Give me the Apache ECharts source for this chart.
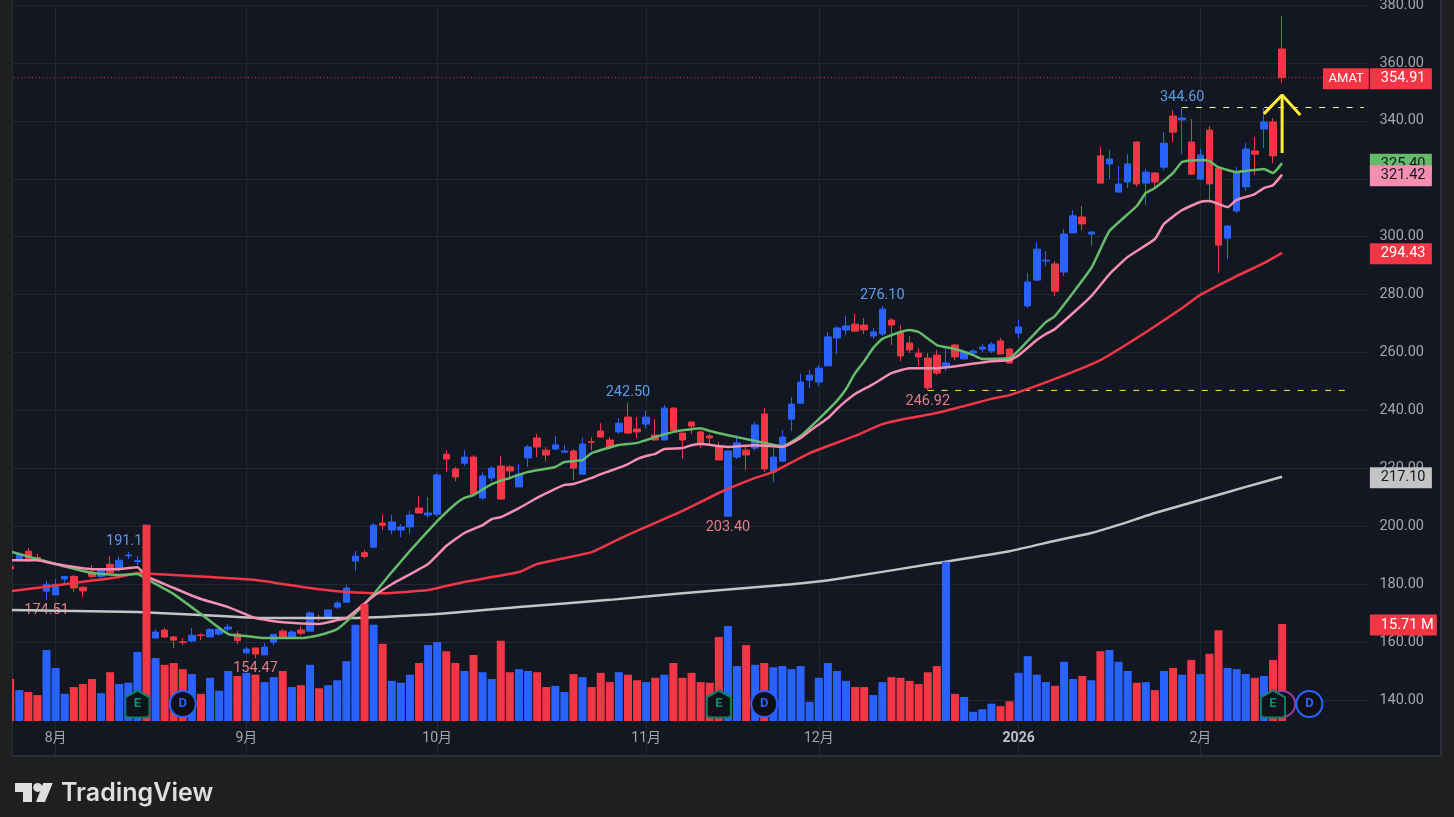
<!DOCTYPE html>
<html>
<head>
<meta charset="utf-8">
<title>AMAT</title>
<style>
html,body{margin:0;padding:0;background:#1f1f1f;}
#main{width:1454px;height:817px;}
</style>
<script src="https://cdn.jsdelivr.net/npm/echarts@6/dist/echarts.min.js"></script>
</head>
<body>
<div id="main"></div>
<script>
// candle values (blue = up, red = down)
var opens = [
186.2,188.6,191.4,189.2,177.6,176.3,181.8,182.7,179.0,184.2,
182.7,186.9,185.2,189.8,187.8,182.0,161.4,164.2,161.8,160.1,
160.4,162.5,161.8,162.8,164.5,162.8,156.3,158.0,155.6,160.0,
163.8,161.8,164.2,163.8,168.5,168.7,172.1,173.8,188.0,190.9,
192.8,201.1,198.7,198.7,199.8,206.3,203.9,204.2,224.9,219.8,
221.8,223.9,209.8,216.7,220.8,220.5,213.6,223.6,230.5,226.3,
226.7,225.6,226.0,218.0,229.2,232.9,229.8,232.6,237.7,233.6,
235.3,231.5,229.8,240.8,232.2,236.0,232.6,231.2,227.4,203.5,
223.9,226.3,227.0,238.8,218.7,222.5,237.0,242.5,250.5,249.8,
255.4,265.0,267.8,269.8,269.5,265.7,266.4,271.2,267.1,263.3,
259.8,258.1,259.1,255.4,262.6,257.8,259.8,261.2,260.5,264.0,
261.2,266.7,276.1,285.0,291.6,290.6,287.8,301.3,306.8,300.9,
327.9,325.1,315.4,318.9,332.7,318.5,322.0,324.0,341.7,340.3,
332.7,319.9,336.8,323.7,299.5,308.9,317.2,329.6,337.2,339.6,
364.8];
var closes = [
185.3,190.3,188.0,188.9,180.0,180.0,182.7,178.7,177.7,182.7,
184.9,184.0,188.3,190.1,188.2,163.0,163.5,161.8,160.7,159.9,
162.4,162.3,164.4,164.5,165.2,160.5,157.6,155.9,158.3,162.7,
161.8,163.5,163.1,170.1,168.3,171.1,173.5,178.7,189.7,189.6,
200.4,200.4,201.5,199.8,203.9,204.6,204.6,217.7,223.2,217.0,
223.9,211.1,217.4,220.1,209.4,219.1,218.0,227.4,227.4,224.6,
228.1,226.0,220.1,228.4,229.0,230.8,227.4,235.6,232.2,232.6,
237.7,229.8,240.8,233.2,229.8,234.6,228.4,230.5,222.9,226.0,
228.8,224.6,235.0,219.8,223.9,230.8,242.2,249.8,252.2,254.6,
265.4,268.5,269.2,267.4,267.8,267.1,275.0,269.5,258.8,260.9,
258.5,247.8,252.9,256.4,258.5,260.2,260.5,261.9,262.9,259.5,
256.4,268.8,284.35,295.7,291.9,281.2,300.9,307.2,304.4,301.6,
318.5,326.8,318.2,325.1,318.2,322.3,318.9,332.3,336.1,341.0,
321.6,328.2,318.2,297.1,303.7,322.3,330.3,328.5,339.6,327.9,
354.91];
var highs = [
186.6,190.5,192.5,190.6,181.35,181.7,182.7,183.2,179.1,186.6,
185.5,189.7,189.7,191.13,189.7,186.0,164.4,165.0,162.1,161.4,
164.9,163.1,164.9,164.9,166.2,163.8,158.3,158.0,159.7,162.7,
164.5,164.2,165.6,170.7,169.6,171.1,174.2,179.8,191.5,191.8,
201.1,204.2,203.9,200.8,205.3,210.5,210.1,218.4,226.3,220.5,
226.3,224.6,218.7,220.8,224.3,221.2,221.5,228.1,231.9,227.4,
231.2,228.1,226.7,230.5,230.8,235.6,230.8,237.4,242.5,237.7,
239.8,237.0,241.9,241.2,232.2,236.3,233.2,231.9,229.1,226.0,
231.5,227.7,236.0,240.8,228.0,233.2,244.6,252.6,254.0,255.7,
267.1,269.2,272.6,273.3,271.9,268.5,276.1,271.9,269.5,265.7,
261.6,259.8,260.9,261.2,263.0,260.5,261.2,262.9,263.6,265.0,
261.6,271.2,287.5,298.2,295.0,291.6,302.6,309.2,310.6,301.8,
330.9,329.9,324.4,328.5,332.9,323.4,322.3,336.1,343.7,344.6,
340.6,330.3,338.2,323.7,304.0,324.0,332.3,334.4,344.4,341.0,
376.2];
var lows = [
185.0,188.3,188.0,187.8,174.51,176.3,180.5,177.4,175.7,181.9,
182.0,183.9,184.3,188.7,186.6,162.0,161.4,161.4,157.9,159.0,
160.0,160.7,161.8,162.2,163.8,159.3,155.9,154.47,155.5,159.0,
161.4,161.8,162.4,163.8,167.3,168.7,171.4,173.8,184.6,188.8,
192.6,198.7,197.3,196.3,197.3,204.6,202.9,203.5,218.7,215.6,
220.8,210.8,209.0,215.6,209.4,217.0,213.6,220.5,223.9,222.5,
226.3,225.3,216.0,218.0,226.3,230.8,226.7,231.9,231.9,230.5,
233.9,229.8,229.8,232.9,223.2,231.9,227.0,228.4,222.9,203.4,
223.2,219.4,226.3,218.8,215.3,222.5,232.9,242.5,247.7,248.4,
255.4,259.5,266.0,267.1,266.4,264.7,265.7,262.6,257.0,259.8,
255.3,246.92,252.2,253.6,257.4,257.8,259.1,260.2,259.8,259.5,
256.0,265.0,275.4,284.7,289.9,279.5,286.4,301.3,302.3,296.8,
318.5,319.9,315.4,316.8,317.2,310.9,316.8,323.0,332.7,328.5,
321.3,319.6,311.6,287.5,292.3,308.2,315.8,321.3,330.6,325.4,
353.1];
// volume in millions
var volumes = [
6.8,5.0,4.7,4.2,11.5,8.6,4.4,5.5,6.0,6.8,
4.5,7.9,6.0,6.2,11.2,31.8,10.2,9.1,9.4,8.4,
7.6,4.4,7.0,4.9,8.1,7.3,7.8,7.5,6.3,7.1,
8.1,5.5,5.8,9.1,5.3,5.8,6.6,9.7,15.6,19.0,
15.6,12.5,6.5,6.2,7.5,9.4,12.3,12.8,11.3,9.4,
8.1,10.7,7.9,6.8,13.0,7.9,8.4,8.1,7.9,5.5,
5.7,4.7,7.6,7.1,5.5,7.8,6.3,7.9,7.5,6.6,
6.3,7.0,7.5,9.4,7.0,7.8,6.3,6.2,13.6,15.4,
8.9,12.3,9.1,9.4,8.7,8.9,8.4,8.9,3.1,7.0,
9.4,8.1,6.5,5.5,5.5,4.2,6.3,7.1,7.0,6.5,
6.0,7.9,8.9,25.8,4.4,3.9,1.5,1.9,2.8,2.4,
3.2,7.8,10.5,7.5,6.3,5.7,9.6,6.8,7.3,6.6,
11.3,11.5,9.6,8.1,6.2,6.3,5.0,8.1,8.6,7.5,
9.9,7.6,10.9,14.7,8.6,8.4,7.6,7.0,7.3,9.9,
15.71];

// moving averages, sampled as [bar, value] along each curve
var maGreen = [[0,191.3],[5,187],[9,183.9],[12,183.2],[14,183.5],[15,181.8],[18,176.6],[21,169.7],[24,162.8],[26,162.1],[28,161.4],[32,161.4],[34,162.4],[36,164.5],[38,170],[40,176.6],[42,184.2],[44,191.5],[46,198.4],[47,201.8],[49,207.7],[50,209.8],[51,210.8],[53,214.6],[55,216.7],[57,218.8],[60,220.5],[61,222.2],[63,222.9],[64,225.3],[67,228.1],[69,228.8],[71,230.8],[73,232.6],[74,233.2],[76,233.9],[77,232.9],[80,230.8],[83,228.8],[85,227.7],[87,231.2],[89,237],[91,243.3],[92,247.4],[93,252.9],[94,257],[95,261.6],[96,264.7],[98,267.1],[99,267.8],[100,267.1],[102,262.6],[104,261.2],[106,259.1],[107,257.8],[110,258.1],[112,264],[114,270.5],[115,272.6],[119,289.2],[120,295.7],[121,302],[124,310.6],[125,315.1],[126,316.8],[128,322],[129,325.8],[131,326.5],[132,326.1],[133,324],[135,322.3],[136,322.7],[138,323.4],[139,322],[140,325.4]];
var maPink = [[0,188.3],[3,188.3],[5,187],[9,185.2],[12,185.2],[14,185.9],[15,182.8],[18,178.7],[21,174.9],[24,172.1],[27,168.3],[30,166.9],[34,166.3],[36,167.6],[37,168.3],[40,175.9],[42,180],[46,187],[48,193.2],[50,197.7],[52,200.4],[53,202.5],[54,203.2],[56,206.3],[58,209.8],[60,212.9],[61,214.3],[62,214.6],[64,216.7],[65,218],[66,219.1],[68,221.5],[69,223.2],[70,224.3],[71,225],[72,226.7],[74,227],[75,228],[76,228.4],[79,227.4],[82,228],[85,227.4],[87,230.5],[88,232.9],[90,237.4],[91,240.5],[92,243.3],[93,245.7],[95,249.1],[97,252.9],[99,254.6],[102,254.6],[105,255.7],[108,257],[110,257.4],[111,259.1],[113,264.3],[114,266.4],[115,268.1],[119,279.5],[121,287.1],[123,293],[126,299.2],[127,304.4],[129,309.2],[131,312],[132,312.3],[134,310.2],[135,312.7],[137,314.7],[138,316.8],[139,317.8],[140,321.42]];
var maRed = [[0,177.6],[6,180],[12,182.5],[14,183.9],[16,183.5],[22,182.5],[27,181.5],[33,178.7],[36,177.6],[41,176.9],[46,178],[50,180.8],[56,184.2],[58,187],[64,191.1],[67,195.6],[69,198.4],[74,205.3],[78,211.5],[82,216.7],[84,218.8],[88,225.3],[93,231.2],[96,235.3],[99,237.4],[102,239.1],[105,241.5],[108,244],[110,245.3],[115,250.9],[120,257.4],[124,265],[129,275.4],[131,279.9],[135,286.4],[138,290.9],[140,294.43]];
var maGrey = [[0,171.1],[14,170.4],[21,169.4],[28,168.3],[37,168.3],[47,169.7],[56,172.1],[66,174.6],[74,176.9],[86,180],[91,181.8],[102,187.3],[110,191.4],[115,195],[119,197.7],[122,200.5],[126,204.6],[131,209.1],[136,213.6],[140,217.1]];

// yellow arrow drawn on the chart
var arrowShaft = [[140,328.9],[140,348.9]];
var arrowHead = [[138,342.4],[140,348.9],[142,342]];

// level lines
var lastPriceLine = [[0,354.91],[149,354.91]];
var highLevelLine = [[129,344.6],[149,344.6]];
var lowLevelLine = [[101,246.92],[147,246.92]];

// x axis
var tickBars = [5,26,47,70,89,111,131];
var tickLabels = ['8月','9月','10月','11月','12月','2026','2月'];
var barCount = 150;

// high / low notes: [bar, value, text, side]
var notes = [
    [13,191.13,'191.13','top'],
    [4,174.51,'174.51','bottom'],
    [27,154.47,'154.47','bottom'],
    [68,242.5,'242.50','top'],
    [79,203.4,'203.40','bottom'],
    [96,276.1,'276.10','top'],
    [101,246.92,'246.92','bottom'],
    [129,344.6,'344.60','top']
];

// earnings and dividend badges: [bar, height on volume scale]
var earnings = [[14,2.75],[78,2.75],[139,2.75]];
var dividends = [[19,2.75],[83,2.75],[143,2.75]];

var BLUE = '#2962FF', RED = '#F23645', GREEN = '#66BB6A', PINK = '#F48FB1', GREY = '#C4C4C4';
var TAG_FONT = 14.5;

var categories = [];
for (var i = 0; i < barCount; i++) {
    var at = tickBars.indexOf(i);
    categories.push(at >= 0 ? tickLabels[at] : '');
}

var candles = [], volumeBars = [];
for (var i = 0; i < opens.length; i++) {
    candles.push([opens[i], closes[i], lows[i], highs[i]]);
    volumeBars.push({value: volumes[i], itemStyle: {color: closes[i] >= opens[i] ? BLUE : RED}});
}

function noteMarks() {
    var list = [];
    for (var i = 0; i < notes.length; i++) {
        var n = notes[i];
        list.push({
            coord: [n[0], n[1]],
            label: {
                show: true, formatter: n[2], position: n[3], distance: 3,
                color: n[3] == 'top' ? '#5B9CE8' : '#E57C84',
                fontSize: TAG_FONT, fontFamily: 'Roboto'
            }
        });
    }
    return list;
}

// price tag label on the right side
function tagLabel(text, bg, fg, boxWidth) {
    return {
        show: true, formatter: text, position: 'inside', align: 'left', verticalAlign: 'middle',
        offset: [6, 1], color: fg, backgroundColor: bg, fontSize: TAG_FONT, fontFamily: 'Roboto',
        width: boxWidth || 51, height: 15, lineHeight: 15, padding: [3, 0, 3, 11]
    };
}

function tag(value, text, bg, fg) {
    return {
        silent: true, z: 10, animation: false,
        data: [{coord: [149, value], symbol: 'rect', symbolSize: 0, label: tagLabel(text, bg, fg)}]
    };
}

function maSeries(name, data, color, tagMark) {
    return {
        name: name, type: 'line', data: data, xAxisIndex: 0, yAxisIndex: 0,
        showSymbol: false, smooth: 0.15, z: 3, silent: true,
        lineStyle: {color: color, width: 2.5},
        markPoint: tagMark
    };
}

function levelSeries(name, data, color, dash) {
    return {
        name: name, type: 'line', data: data, xAxisIndex: 0, yAxisIndex: 0,
        showSymbol: false, z: 2, silent: true,
        lineStyle: {color: color, type: dash, width: 1}
    };
}

function badge(points, kind) {
    var list = [];
    for (var i = 0; i < points.length; i++) {
        var isE = kind == 'E';
        list.push({
            coord: points[i],
            symbol: isE ? 'path://M12 0 L24 7 L24 26 L22 28 L2 28 L0 26 L0 7 Z' : 'circle',
            symbolSize: isE ? [24, 27] : 26,
            itemStyle: {color: isE ? '#10131a' : '#0e1016', borderColor: isE ? '#0B7F6A' : BLUE, borderWidth: 2},
            label: {
                show: true, formatter: kind, position: 'inside', fontSize: 13, fontWeight: 'bold',
                fontFamily: 'Roboto', color: isE ? '#0B8F76' : BLUE
            }
        });
    }
    return list;
}

var myChart = echarts.init(document.getElementById('main'), null, {renderer: 'canvas'});

var option = {
    animation: false,
    backgroundColor: '#1f1f1f',
    textStyle: {fontFamily: "Roboto, 'Noto Sans CJK SC'"},
    graphic: [
        {type: 'rect', z: -10, shape: {x: 12, y: -2, width: 1429, height: 758}, style: {fill: '#131722', stroke: '#2a2e39', lineWidth: 2}},
        {type: 'rect', z: 100, shape: {x: 0, y: 0, width: 12, height: 817}, style: {fill: '#1f1f1f'}},
        {type: 'polygon', z: 100, shape: {points: [[15,783],[32,783],[32,802],[23,802],[23,792],[15,792]]}, style: {fill: '#dedede'}},
        {type: 'circle', z: 100, shape: {cx: 37.7, cy: 787.4, r: 4.5}, style: {fill: '#dedede'}},
        {type: 'polygon', z: 100, shape: {points: [[43.3,783],[52.7,783],[45,802],[36,802]]}, style: {fill: '#dedede'}},
        {type: 'text', z: 100, x: 61, y: 781, style: {text: 'TradingView', fill: '#dedede', font: '600 25px Inter'}}
    ],
    grid: [
        {left: 5.66, top: 5, width: 1362.75, height: 753, outerBoundsMode: 'none'},
        {left: 5.66, top: 500, width: 1362.75, height: 221, outerBoundsMode: 'none'}
    ],
    xAxis: [
        {
            type: 'category', data: categories, gridIndex: 0,
            axisLine: {show: false}, axisTick: {show: false},
            axisLabel: {
                show: true, inside: true, margin: 13, interval: 0, color: '#A3A6AF', fontSize: 14, hideOverlap: false,
                formatter: function (v) { return v == '2026' ? '{y|2026}' : v; },
                rich: {y: {fontWeight: 'bold', fontSize: 14, color: '#BFC1C9'}}
            },
            splitLine: {
                show: true, alignWithLabel: true,
                interval: function (idx, v) { return v !== ''; },
                lineStyle: {color: '#232732', width: 1}
            }
        },
        {type: 'category', data: categories, gridIndex: 1, show: false}
    ],
    yAxis: [
        {
            type: 'value', gridIndex: 0, position: 'right', min: 120, max: 380, interval: 20,
            axisLine: {show: false}, axisTick: {show: false},
            axisLabel: {
                color: '#A3A6AF', fontSize: TAG_FONT, margin: 11, showMinLabel: false, padding: [3, 0, 0, 0],
                formatter: function (v) { return v.toFixed(2); }
            },
            splitLine: {show: true, showMinLine: false, lineStyle: {color: '#232732', width: 1}}
        },
        {type: 'value', gridIndex: 1, min: 0, max: 35.8, show: false, splitLine: {show: false}}
    ],
    series: [
        levelSeries('last price line', lastPriceLine, RED, [1, 2.6]),
        levelSeries('high level', highLevelLine, '#FFF59D', [6, 7.7]),
        levelSeries('low level', lowLevelLine, '#FFEB3B', [6, 7.7]),
        {
            name: 'AMAT', type: 'candlestick', data: candles, xAxisIndex: 0, yAxisIndex: 0,
            barWidth: 7, z: 2, silent: true,
            itemStyle: {color: BLUE, color0: RED, borderColor: BLUE, borderColor0: RED, borderColorDoji: RED, borderWidth: 1},
            markPoint: {symbol: 'circle', symbolSize: 0, silent: true, z: 1, data: noteMarks()}
        },
        maSeries('MA grey', maGrey, GREY, tag(217.10, '217.10', GREY, '#131722')),
        maSeries('MA red', maRed, RED, tag(294.43, '294.43', RED, '#ffffff')),
        maSeries('MA green', maGreen, GREEN, tag(325.40, '325.40', GREEN, '#131722')),
        maSeries('MA pink', maPink, PINK, tag(321.42, '321.42', PINK, '#131722')),
        {
            name: 'Volume', type: 'bar', data: volumeBars, xAxisIndex: 1, yAxisIndex: 1,
            barWidth: 8, z: 5, silent: true,
            markPoint: {
                silent: true, z: 20,
                data: [{
                    coord: [140, 2.75], symbol: 'circle', symbolSize: 26,
                    itemStyle: {color: '#0e1016', borderColor: '#9C3BA8', borderWidth: 2},
                    label: {show: false}
                }].concat(badge(earnings, 'E')).concat(badge(dividends, 'D')).concat([{
                    coord: [149, 15.71], symbol: 'rect', symbolSize: 0,
                    label: tagLabel('15.71 M', RED, '#ffffff', 56)
                }])
            }
        },
        {
            name: 'arrow shaft', type: 'line', data: arrowShaft, xAxisIndex: 0, yAxisIndex: 0,
            showSymbol: false, z: 6, silent: true, lineStyle: {color: '#FFEB3B', width: 3}
        },
        {
            name: 'arrow head', type: 'line', data: arrowHead, xAxisIndex: 0, yAxisIndex: 0,
            showSymbol: false, z: 6, silent: true, lineStyle: {color: '#FFEB3B', width: 3}
        },
        {
            // tags beside the last price
            name: 'last price', type: 'line', data: [], xAxisIndex: 0, yAxisIndex: 0, z: 6, silent: true,
            markPoint: {
                silent: true, z: 12,
                data: [{
                    coord: [149, 354.91], symbol: 'rect', symbolSize: 0,
                    label: {
                        show: true, formatter: 'AMAT', position: 'inside', align: 'right', verticalAlign: 'middle',
                        offset: [5, 1], color: '#ffffff', backgroundColor: RED, fontSize: 13, fontFamily: 'Roboto',
                        width: 35, height: 15, lineHeight: 15, padding: [3, 5, 3, 6]
                    }
                }, {
                    coord: [149, 354.91], symbol: 'rect', symbolSize: 0,
                    label: tagLabel('354.91', RED, '#ffffff')
                }]
            }
        }
    ]
};

myChart.setOption(option);
</script>
</body>
</html>
